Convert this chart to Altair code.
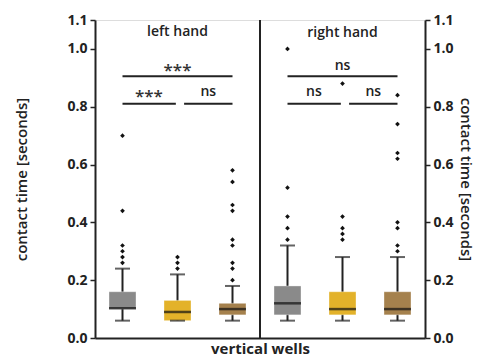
import altair as alt
import pandas as pd

# ---- data ----
groups = ["L-gray", "L-yellow", "L-brown", "R-gray", "R-yellow", "R-brown"]
group_pos = [0, 1, 2, 3, 4, 5]
box_colors = ["#8a8a8a", "#e3b22a", "#a5814d", "#8a8a8a", "#e3b22a", "#a5814d"]
whisker_low = [0.06, 0.06, 0.06, 0.06, 0.06, 0.06]
q1 = [0.10, 0.06, 0.08, 0.08, 0.08, 0.08]
median = [0.103, 0.09, 0.10, 0.12, 0.10, 0.10]
q3 = [0.16, 0.13, 0.12, 0.18, 0.16, 0.16]
whisker_high = [0.24, 0.22, 0.18, 0.32, 0.28, 0.28]
outliers = [
    [0.26, 0.28, 0.30, 0.32, 0.44, 0.70],
    [0.24, 0.26, 0.28],
    [0.20, 0.24, 0.26, 0.32, 0.34, 0.44, 0.46, 0.54, 0.58],
    [0.34, 0.38, 0.42, 0.52, 1.00],
    [0.34, 0.36, 0.38, 0.42, 0.88],
    [0.30, 0.32, 0.38, 0.40, 0.62, 0.64, 0.74, 0.84],
]

panel_titles = ["left hand", "right hand"]
panel_title_x = [1.0, 4.0]
panel_title_y = [1.06, 1.055]

bracket_x1 = [0.0, 0.0, 1.12, 3.0, 3.0, 4.12]
bracket_x2 = [2.0, 0.97, 2.0, 5.0, 3.97, 5.0]
bracket_y = [0.905, 0.81, 0.81, 0.905, 0.81, 0.81]
star_labels = ["***", "***"]
star_x = [1.0, 0.48]
star_y = [0.935, 0.845]
ns_labels = ["ns", "ns", "ns", "ns"]
ns_x = [1.56, 4.0, 3.48, 4.56]
ns_y = [0.852, 0.942, 0.852, 0.852]

y_ticks = [0.0, 0.2, 0.4, 0.6, 0.8, 1.0, 1.1]

# ---- tables ----
boxes = pd.DataFrame({
    "group": groups, "pos": group_pos, "low": whisker_low, "q1": q1,
    "median": median, "q3": q3, "high": whisker_high,
})
out_rows = [{"group": g, "pos": p, "value": v}
            for g, p, vals in zip(groups, group_pos, outliers) for v in vals]
outs = pd.DataFrame(out_rows)
titles = pd.DataFrame({"t": panel_titles, "x": panel_title_x, "y": panel_title_y})
brackets = pd.DataFrame({"x1": bracket_x1, "x2": bracket_x2, "y": bracket_y})
stars = pd.DataFrame({"t": star_labels, "x": star_x, "y": star_y})
nss = pd.DataFrame({"t": ns_labels, "x": ns_x, "y": ns_y})
sep = pd.DataFrame({"x": [2.5], "y1": [0.0], "y2": [1.1]})

FONT = "Open Sans"
INK = "#222"
xs = alt.Scale(domain=[-0.5, 5.5], nice=False, zero=False, padding=0)
ys = alt.Scale(domain=[0, 1.1], nice=False, zero=False, padding=0)

def yaxis(orient, tpad):
    return alt.Axis(values=y_ticks, format=".1f", title="contact time [seconds]",
                    orient=orient, grid=False, domainColor=INK, domainWidth=2,
                    tickColor=INK, tickWidth=1.5, tickSize=5, labelFont=FONT,
                    labelFontSize=14, labelFontWeight="bold", labelColor=INK,
                    labelPadding=3, titleFont=FONT, titleFontSize=15,
                    titleFontWeight=600, titleColor=INK, titlePadding=tpad)

x_axis = alt.Axis(ticks=False, labels=False, grid=False, domainColor=INK,
                  domainWidth=2, title="vertical wells", titleFont=FONT,
                  titleFontSize=15, titleFontWeight="bold", titleColor=INK,
                  titlePadding=3)

base = alt.Chart(boxes)

whiskers = base.mark_rule(color=INK, strokeWidth=2).encode(
    x=alt.X("pos:Q", scale=xs, axis=x_axis),
    y=alt.Y("low:Q", scale=ys, axis=yaxis("left", 37)),
    y2="high:Q",
)
bars = base.mark_bar(size=27, stroke="#ffffff", strokeOpacity=0.35, strokeWidth=1).encode(
    x=alt.X("pos:Q", scale=xs),
    y=alt.Y("q1:Q", scale=ys, axis=None),
    y2="q3:Q",
    color=alt.Color("group:N", scale=alt.Scale(domain=groups, range=box_colors), legend=None),
)
meds = base.mark_tick(orient="horizontal", size=27, thickness=2.5, color="#111").encode(
    x=alt.X("pos:Q", scale=xs),
    y=alt.Y("median:Q", scale=ys, axis=None),
)
cap_lo = base.mark_tick(orient="horizontal", size=15, thickness=2, color=INK).encode(
    x=alt.X("pos:Q", scale=xs),
    y=alt.Y("low:Q", scale=ys, axis=None),
)
cap_hi = base.mark_tick(orient="horizontal", size=15, thickness=2, color=INK).encode(
    x=alt.X("pos:Q", scale=xs),
    y=alt.Y("high:Q", scale=ys, axis=None),
)
points = alt.Chart(outs).mark_point(shape="diamond", filled=True, size=22,
                                      color="#111", opacity=1).encode(
    x=alt.X("pos:Q", scale=xs),
    y=alt.Y("value:Q", scale=ys, axis=None),
)
br = alt.Chart(brackets).mark_rule(color=INK, strokeWidth=2).encode(
    x=alt.X("x1:Q", scale=xs),
    x2="x2:Q",
    y=alt.Y("y:Q", scale=ys, axis=None),
)
star_text = alt.Chart(stars).mark_text(font=FONT, fontSize=17, fontWeight=600,
                                       color="#333", baseline="middle", dy=3).encode(
    x=alt.X("x:Q", scale=xs),
    y=alt.Y("y:Q", scale=ys, axis=None),
    text="t:N",
)
ns_text = alt.Chart(nss).mark_text(font=FONT, fontSize=14, fontWeight=600,
                                   color=INK, baseline="middle").encode(
    x=alt.X("x:Q", scale=xs),
    y=alt.Y("y:Q", scale=ys, axis=None),
    text="t:N",
)
title_text = alt.Chart(titles).mark_text(font=FONT, fontSize=14, fontWeight=600,
                                         color=INK, baseline="middle").encode(
    x=alt.X("x:Q", scale=xs),
    y=alt.Y("y:Q", scale=ys, axis=None),
    text="t:N",
)
separator = alt.Chart(sep).mark_rule(color=INK, strokeWidth=2).encode(
    x=alt.X("x:Q", scale=xs),
    y=alt.Y("y1:Q", scale=ys, axis=yaxis("right", 4)),
    y2="y2:Q",
)

chart = alt.layer(
    whiskers, bars, meds, cap_lo, cap_hi, points, br, star_text, ns_text,
    title_text, separator
).resolve_scale(y="independent").properties(
    width=330, height=318,
    autosize=alt.AutoSizeParams(type="none"),
    padding={"left": 87, "top": 12, "right": 51, "bottom": 22},
).configure_view(stroke=None).configure(background="white")

chart.save("out.html", embed_options={"renderer": "svg", "actions": False})
